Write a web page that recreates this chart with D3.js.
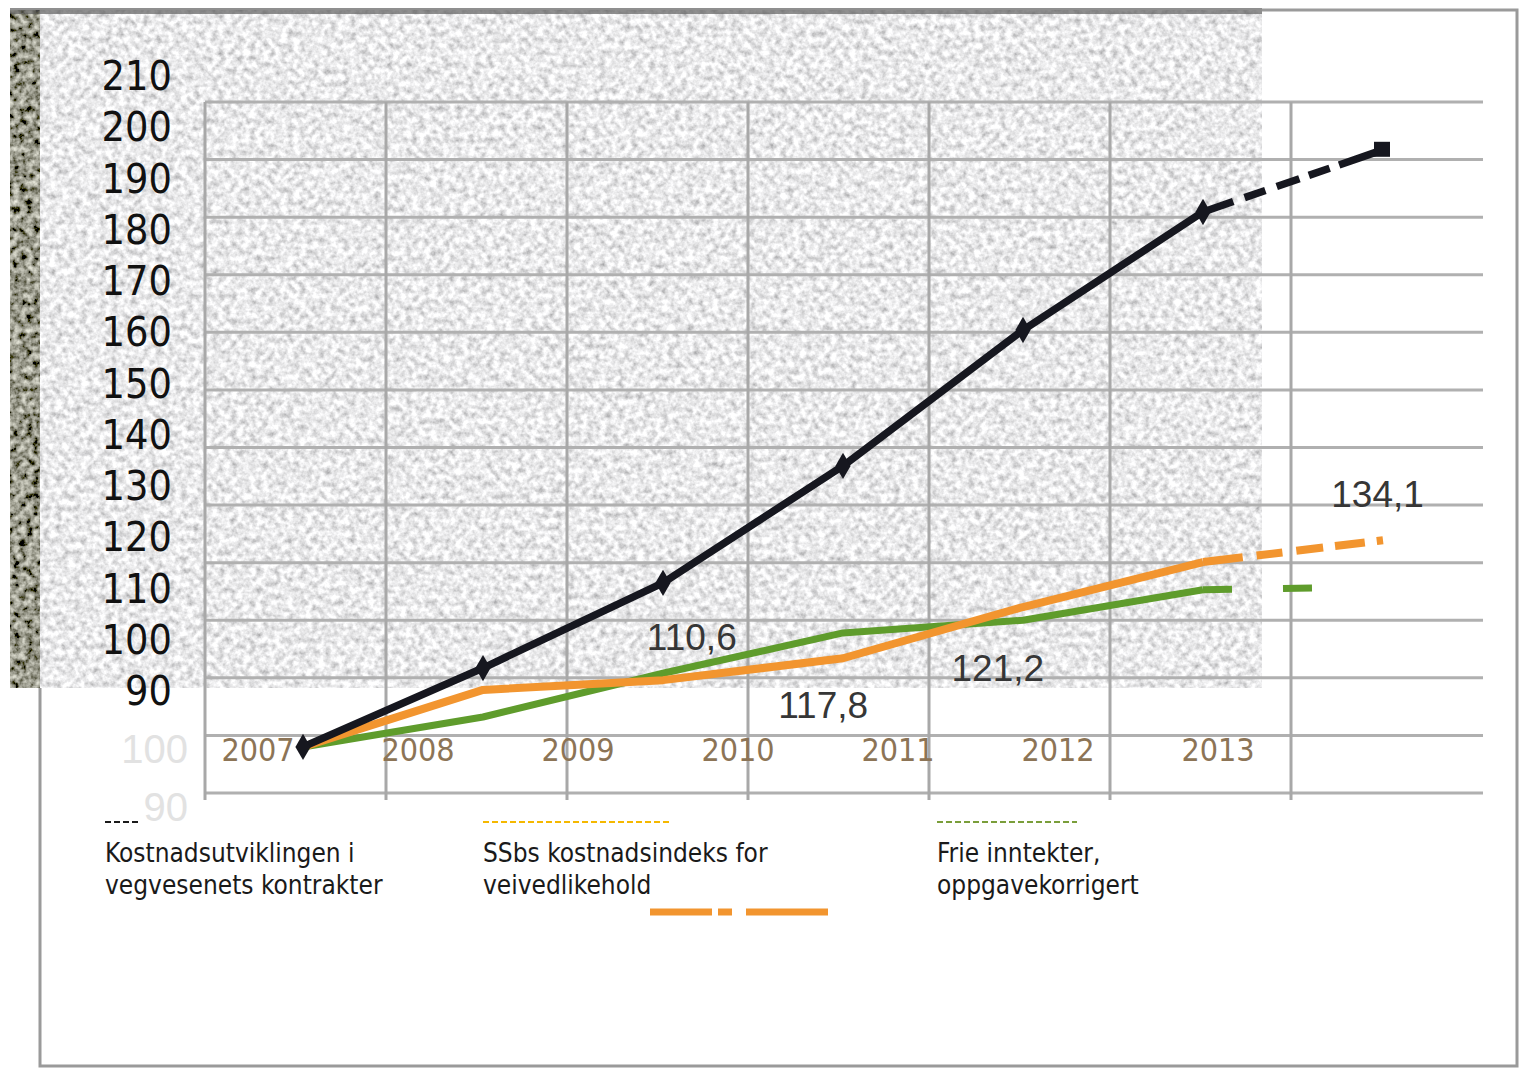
<!DOCTYPE html>
<html>
<head>
<meta charset="utf-8">
<script src="https://cdn.jsdelivr.net/npm/d3@7"></script>
<style>
  body { margin: 0; background: #fff; }
  svg { display: block; }
</style>
</head>
<body>
<div id="chart"></div>
<script>
// data (index values)
var years = ["2007", "2008", "2009", "2010", "2011", "2012", "2013"]
var kontrakter = [98.0, 111.7, 126.5, 146.8, 170.4, 190.9, 201.7]
var ssb = [98.0, 107.9, 109.6, 113.4, 122.3, 130.1, 133.9]
var frie = [98.0, 103.2, 110.8, 117.8, 120.0, 125.3, 125.8]

// overlay axis labels and the scanned value labels
var yLabels = [210, 200, 190, 180, 170, 160, 150, 140, 130, 120, 110, 100, 90]
var gridValues = d3.range(90, 211, 10)
var valueLabels = [
    {text: "110,6", x: 2.16, v: 114.8},
    {text: "117,8", x: 2.89, v: 103.0},
    {text: "121,2", x: 3.86, v: 109.5},
    {text: "134,1", x: 5.97, v: 139.7}
]
var legendItems = [
    {lines: ["Kostnadsutviklingen i", "vegvesenets kontrakter"], color: "#1a1a1a", dash: [105, 140]},
    {lines: ["SSbs kostnadsindeks for", "veivedlikehold"], color: "#f5b800", dash: [483, 672]},
    {lines: ["Frie inntekter,", "oppgavekorrigert"], color: "#7a9e3a", dash: [937, 1077]}
]

var W = 1519, H = 1068
var narrow = "'Liberation Sans Narrow', 'DejaVu Sans Condensed', sans-serif"

var svg = d3.select("#chart").append("svg")
    .attr("width", W)
    .attr("height", H)

// noise filters for the scanned paper look
var defs = svg.append("defs")
var grain = defs.append("filter").attr("id", "grain")
    .attr("x", 0).attr("y", 0).attr("width", 1).attr("height", 1)
grain.append("feTurbulence")
    .attr("type", "fractalNoise").attr("baseFrequency", 0.16)
    .attr("numOctaves", 3).attr("seed", 7)
grain.append("feColorMatrix").attr("type", "matrix")
    .attr("values", "1.0 0 0 0 0.32  1.0 0 0 0 0.32  1.0 0 0 0 0.33  0 0 0 0 1")
var grainDark = defs.append("filter").attr("id", "grainDark")
    .attr("x", 0).attr("y", 0).attr("width", 1).attr("height", 1)
grainDark.append("feTurbulence")
    .attr("type", "fractalNoise").attr("baseFrequency", 0.15)
    .attr("numOctaves", 3).attr("seed", 2)
grainDark.append("feColorMatrix").attr("type", "matrix")
    .attr("values", "1.3 0 0 0 -0.33  1.3 0 0 0 -0.33  1.2 0 0 0 -0.34  0 0 0 0 1")

// scales: the old scanned grid and the overlaid labels
var gy = d3.scaleLinear().domain([90, 210]).range([793, 102])
var gridX = d3.scaleLinear().domain([0, 6]).range([205, 1291])
var x = d3.scaleLinear().domain([0, 6]).range([303, 1383])
var yLab = d3.scaleLinear().domain([90, 210]).range([690, 75])
var yearX = d3.scalePoint().domain(years).range([258, 1218])

// background: textured scan area
svg.append("rect")
    .attr("x", 10).attr("y", 10).attr("width", 1252).attr("height", 678)
    .attr("filter", "url(#grain)")
svg.append("rect")
    .attr("x", 10).attr("y", 10).attr("width", 30).attr("height", 678)
    .attr("filter", "url(#grainDark)")
svg.append("rect")
    .attr("x", 10).attr("y", 8).attr("width", 1252).attr("height", 6)
    .attr("fill", "#5f5f5f").attr("opacity", 0.7)

// outer frame
svg.append("path")
    .attr("d", "M40,688 V1066 H1517 V10 H1262")
    .attr("fill", "none").attr("stroke", "#9a9a9a").attr("stroke-width", 3)

// grid
svg.append("g").selectAll("line")
    .data(gridValues)
    .enter().append("line")
    .attr("x1", 205).attr("x2", 1483)
    .attr("y1", d => gy(d)).attr("y2", d => gy(d))
    .attr("stroke", "#b0b0b0").attr("stroke-width", 3)
svg.append("g").selectAll("line")
    .data(d3.range(0, 7))
    .enter().append("line")
    .attr("x1", d => gridX(d)).attr("x2", d => gridX(d))
    .attr("y1", gy(210)).attr("y2", 800)
    .attr("stroke", "#a8a8a8").attr("stroke-width", 3)

// faded labels of the old scan
svg.append("g").selectAll("text")
    .data([{t: "100", v: 100}, {t: "90", v: 90}])
    .enter().append("text")
    .attr("x", 188).attr("y", d => gy(d.v) + 28)
    .attr("text-anchor", "end")
    .style("font-family", "'Liberation Sans', Arial, sans-serif")
    .style("font-size", "40px")
    .style("fill", "#e2e2e2")
    .text(d => d.t)

// lines
var line = d3.line().x((d, i) => x(i)).y(d => gy(d))

function series(values, color, width, dash) {
    var solid = values.slice(0, 6)
    svg.append("path")
        .datum(solid)
        .attr("d", line)
        .attr("fill", "none").attr("stroke", color)
        .attr("stroke-width", width).attr("stroke-linejoin", "round")
    var proj = d3.line().x(d => x(d.i)).y(d => gy(d.v))
    svg.append("path")
        .datum([{i: 5, v: values[5]}, {i: 6, v: values[6]}])
        .attr("d", proj)
        .attr("fill", "none").attr("stroke", color)
        .attr("stroke-width", width)
        .attr("stroke-dasharray", dash)
}

series(frie, "#5f9c2c", 7, "29,51,29,400")
series(ssb, "#f2952f", 8, "40,14,26,14,27,12,30,12,60")
series(kontrakter, "#16171f", 7.5, "32,12,22,12,24,10,22,10,40")

// black markers
svg.append("g").selectAll("path")
    .data(kontrakter.slice(0, 6))
    .enter().append("path")
    .attr("transform", (d, i) => "translate(" + x(i) + "," + gy(d) + ")")
    .attr("d", d3.symbol().type(d3.symbolDiamond).size(200))
    .attr("fill", "#16171f")
svg.append("rect")
    .attr("x", x(6) - 9).attr("y", gy(kontrakter[6]) - 8)
    .attr("width", 16).attr("height", 15)
    .attr("fill", "#16171f")

// value labels from the scan
svg.append("g").selectAll("text")
    .data(valueLabels)
    .enter().append("text")
    .attr("x", d => x(d.x)).attr("y", d => gy(d.v))
    .attr("text-anchor", "middle")
    .style("font-family", "'Liberation Sans', Arial, sans-serif")
    .style("font-size", "37px")
    .style("fill", "#363636")
    .text(d => d.text)

// overlaid y labels
svg.append("g").selectAll("text")
    .data(yLabels)
    .enter().append("text")
    .attr("x", 172).attr("y", d => yLab(d) + 15)
    .attr("text-anchor", "end")
    .style("font-family", narrow)
    .style("font-size", "41px")
    .style("fill", "#111")
    .text(d => d)

// overlaid year labels
svg.append("g").selectAll("text")
    .data(years)
    .enter().append("text")
    .attr("x", d => yearX(d)).attr("y", 761)
    .attr("text-anchor", "middle")
    .style("font-family", narrow)
    .style("font-size", "32px")
    .style("fill", "#8c7456")
    .text(d => d)

// legend
var lg = svg.append("g")
legendItems.forEach(function(item) {
    lg.append("line")
        .attr("x1", item.dash[0]).attr("x2", item.dash[1])
        .attr("y1", 822).attr("y2", 822)
        .attr("stroke", item.color).attr("stroke-width", 2)
        .attr("stroke-dasharray", "6,3")
    lg.append("text")
        .attr("x", item.dash[0]).attr("y", 862)
        .style("font-family", narrow)
        .style("font-size", "26px")
        .style("fill", "#1a1a1a")
        .selectAll("tspan")
        .data(item.lines)
        .enter().append("tspan")
        .attr("x", item.dash[0])
        .attr("dy", (d, i) => i == 0 ? 0 : 32)
        .text(d => d)
})

// stray orange sample below the legend
lg.append("line")
    .attr("x1", 650).attr("x2", 828)
    .attr("y1", 912).attr("y2", 912)
    .attr("stroke", "#f2952f").attr("stroke-width", 7)
    .attr("stroke-dasharray", "62,6,14,14,84")
</script>
</body>
</html>
